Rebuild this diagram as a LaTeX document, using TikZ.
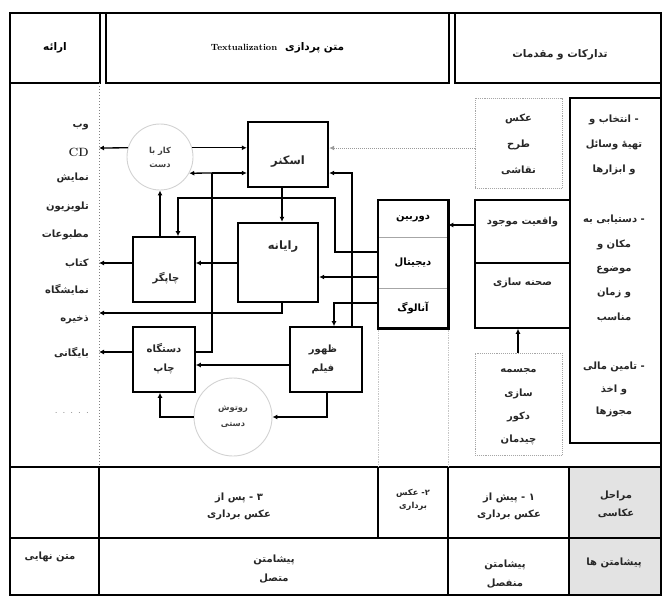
\documentclass[tikz,border=0pt]{standalone}
\usepackage{fontspec}
\usetikzlibrary{arrows.meta,calc}
\TeXXeTstate=1
\newfontfamily\arabicfont[Script=Arabic]{DejaVu Sans Bold}
\newcommand\fat[1]{{\arabicfont\beginR #1\endR}}
\newcommand\lbfont{\fontsize{10}{12}\selectfont}
\tikzset{
  frameline/.style={line width=2.2pt},
  rowline/.style={line width=1.6pt},
  hcell/.style={draw, line width=2pt, inner sep=0pt, font={\fontsize{10.5}{12}\selectfont}},
  thickbox/.style={draw, line width=2.4pt, inner sep=0pt},
  plainbox/.style={draw, line width=1.6pt, inner sep=0pt},
  camrow/.style={draw=gray!70, line width=0.6pt, inner sep=0pt, minimum width=70pt, font=\lbfont},
  dotbox/.style={draw=gray!70, densely dotted, line width=0.9pt, inner sep=0pt},
  ring/.style={circle, draw=gray!35, line width=0.9pt, inner sep=0pt},
  conn/.style={line width=1.3pt},
  arr/.style={conn, -{Latex[length=5pt,width=5pt]}},
  dotarr/.style={line width=1pt, gray!80, densely dotted, -{Latex[length=5pt,width=5pt]}},
  lbl/.style={inner sep=0pt, font=\lbfont, align=center, text=black!85},
  small/.style={inner sep=0pt, font={\fontsize{8.3}{10}\selectfont}, align=center, text=black!75},
}
\begin{document}
\begin{tikzpicture}[x=1pt,y=-1pt]
\useasboundingbox (0,0) rectangle (663,597);

% grey cells of the bottom rows
\fill[gray!22] (569,467) rectangle (661,595);

% header cells
\node[hcell, minimum width=90pt, minimum height=70pt] (h1) at (55,48) {\fat{ارائه}};
\node[hcell, minimum width=343pt, minimum height=70pt] (h2) at (277.5,48) {{\arabicfont\beginR متن پردازی\hspace{8pt}\beginL{\rmfamily\bfseries\fontsize{9}{10}\selectfont Textualization}\endL\endR}};
\node[hcell, minimum width=206pt, minimum height=70pt] (h3) at (558,48) {};
\node[lbl, font={\fontsize{10.5}{12}\selectfont}] (h3t) at (560,55) {\fat{تدارکات و مقدمات}};

% frame and rows
\draw[frameline] (10,13) rectangle (661,595);
\draw[gray, dotted, line width=1pt] (99,83) -- (99,467);
\draw[frameline] (10,467) -- (661,467);
\draw[rowline] (10,538) -- (661,538);
\draw[rowline] (99,467) -- (99,595);
\draw[rowline] (378,467) -- (378,538);
\draw[rowline] (448,467) -- (448,595);
\draw[rowline] (569,467) -- (569,595);
\draw[gray!45, densely dotted, line width=0.7pt] (378,328) -- (378,467);
\draw[gray!45, densely dotted, line width=0.7pt] (448,328) -- (448,467);

% presentation list
\node[lbl, anchor=east] (p1) at (89,127) {\fat{وب}};
\node[lbl, anchor=east] (p2) at (89,152) {\rmfamily\bfseries\fontsize{12}{13}\selectfont CD};
\node[lbl, anchor=east] (p3) at (89,178) {\fat{نمایش}};
\node[lbl, anchor=east] (p4) at (89,207) {\fat{تلویزیون}};
\node[lbl, anchor=east] (p5) at (89,235) {\fat{مطبوعات}};
\node[lbl, anchor=east] (p6) at (89,263) {\fat{کتاب}};
\node[lbl, anchor=east] (p7) at (89,290) {\fat{نمایشگاه}};
\node[lbl, anchor=east] (p8) at (89,320) {\fat{ذخیره}};
\node[lbl, anchor=east] (p9) at (89,353) {\fat{بایگانی}};
\node[lbl, anchor=east, text=gray] (p10) at (89,413) {.\hspace{5pt}.\hspace{5pt}.\hspace{5pt}.\hspace{5pt}.};

% process nodes
\node[ring, minimum size=66pt] (kar) at (160,157) {};
\node[small] (karT) at (160,157) {\fat{کار با}\\[4pt]\fat{دست}};
\node[thickbox, minimum width=80pt, minimum height=65pt] (scan) at (288,154.5) {};
\node[lbl, font={\fontsize{11.5}{13}\selectfont}] (scanT) at (288,162) {\fat{اسکنر}};
\node[thickbox, minimum width=80pt, minimum height=79pt] (ray) at (278,262.5) {};
\node[lbl, font={\fontsize{11.5}{13}\selectfont}] (rayT) at (283,247) {\fat{رایانه}};
\node[plainbox, minimum width=62pt, minimum height=65pt] (chap) at (164,269.5) {};
\node[lbl] (chapT) at (166,278) {\fat{چاپگر}};
\node[plainbox, minimum width=62pt, minimum height=65pt] (dast) at (164,359.5) {};
\node[lbl] (dastT) at (164,359) {\fat{دستگاه}\\[7pt]\fat{چاپ}};
\node[plainbox, minimum width=72pt, minimum height=65pt] (zoh) at (326,359.5) {};
\node[lbl] (zohT) at (323,359) {\fat{ظهور}\\[7pt]\fat{فیلم}};
\node[ring, minimum size=78pt] (rot) at (233,417) {};
\node[small] (rotT) at (233,417) {\fat{روتوش}\\[6pt]\fat{دستی}};

% camera column
\node[camrow, minimum height=37pt] (dorb) at (413,218.5) {\fat{دوربین}};
\node[camrow, minimum height=51pt] (dij) at (413,262.5) {\fat{دیجیتال}};
\node[camrow, minimum height=40pt] (anal) at (413,308) {\fat{آنالوگ}};
\draw[line width=2.4pt] (dorb.north west) rectangle (anal.south east);

% preparation column
\node[dotbox, minimum width=87pt, minimum height=90pt] (naq) at (518.5,143) {};
\node[lbl, font={\fontsize{10}{26}\selectfont}] (naqT) at (518.5,144) {\fat{عکس}\\\fat{طرح}\\\fat{نقاشی}};
\node[plainbox, minimum width=95pt, minimum height=63pt] (vaq) at (522.5,231.5) {};
\node[lbl] (vaqT) at (522.5,222) {\fat{واقعیت موجود}};
\node[plainbox, minimum width=95pt, minimum height=65pt] (sah) at (522.5,295.5) {};
\node[lbl] (sahT) at (522.5,283) {\fat{صحنه سازی}};
\node[dotbox, minimum width=87pt, minimum height=102pt] (moj) at (518.5,404) {};
\node[lbl, font={\fontsize{10}{23.3}\selectfont}] (mojT) at (518.5,407) {\fat{مجسمه}\\\fat{سازی}\\\fat{دکور}\\\fat{چیدمان}};
\node[thickbox, minimum width=91pt, minimum height=345pt] (ent) at (615.5,270.5) {};
\node[lbl, font={\fontsize{10}{25}\selectfont}] (entA) at (614,145) {\fat{- انتخاب و}\\\fat{تهیهٔ وسائل}\\\fat{و ابزارها}};
\node[lbl, font={\fontsize{10}{24.3}\selectfont}] (entB) at (614,268.5) {\fat{- دستیابی به}\\\fat{مکان و}\\\fat{موضوع}\\\fat{و زمان}\\\fat{مناسب}};
\node[lbl, font={\fontsize{10}{22.5}\selectfont}] (entC) at (614,389.5) {\fat{- تامین مالی}\\\fat{و اخذ}\\\fat{مجوزها}};

% connectors
\draw[arr] (kar.164) -- (99,148);
\draw[arr] (kar.16) -- (kar.16 -| scan.west);
\coordinate (split) at (212,173);
\draw[conn] (dast.east |- 0,352) -| (split);
\draw[arr] (split) -- (kar.-29);
\draw[arr] (split) -- (split -| scan.west);
\draw[dotarr] (naq.west |- 0,148) -- (scan.east |- 0,148);
\draw[arr] (zoh.north -| 352,0) |- (scan.east |- 0,173);
\draw[arr] (scan.south -| 282,0) -- (ray.north -| 282,0);
\draw[arr] (dij.west |- 0,252) -| (335,198) -| (chap.north -| 178,0);
\draw[arr] (dij.west |- 0,277) -- (ray.east |- 0,277);
\draw[arr] (anal.west |- 0,303) -| (zoh.north -| 334,0);
\draw[arr] (ray.west |- 0,263) -- (chap.east |- 0,263);
\draw[arr] (chap.west |- 0,263) -- (99,263);
\draw[arr] (chap.north -| kar.south) -- (kar.south);
\draw[arr] (ray.south -| 282,0) |- (99,313);
\draw[arr] (dast.west |- 0,352) -- (99,352);
\draw[arr] (zoh.west |- 0,365) -- (dast.east |- 0,365);
\draw[arr] (zoh.south -| 327,0) |- (rot.east);
\draw[arr] (rot.west) -| (dast.south -| kar.south);
\draw[arr] (vaq.west |- 0,225) -- (dorb.east |- 0,225);
\draw[arr] (moj.north -| 518,0) -- (sah.south -| 518,0);

% bottom rows text
\node[lbl] (r1a) at (239,506) {\fat{۳ - پس از}\\[5pt]\fat{عکس برداری}};
\node[lbl, font={\fontsize{8.3}{10}\selectfont}] (r1b) at (413,500) {\fat{۲- عکس}\\[3pt]\fat{برداری}};
\node[lbl] (r1c) at (509,506) {\fat{۱ - پیش از}\\[5pt]\fat{عکس برداری}};
\node[lbl] (r1d) at (616,504) {\fat{مراحل}\\[6pt]\fat{عکاسی}};
\node[lbl] (r2a) at (50,557) {\fat{متن نهایی}};
\node[lbl] (r2b) at (274,569) {\fat{پیشامتن}\\[7pt]\fat{متصل}};
\node[lbl] (r2c) at (505,574) {\fat{پیشامتن}\\[7pt]\fat{منفصل}};
\node[lbl] (r2d) at (614,563) {\fat{پیشامتن ها}};
\end{tikzpicture}
\end{document}
